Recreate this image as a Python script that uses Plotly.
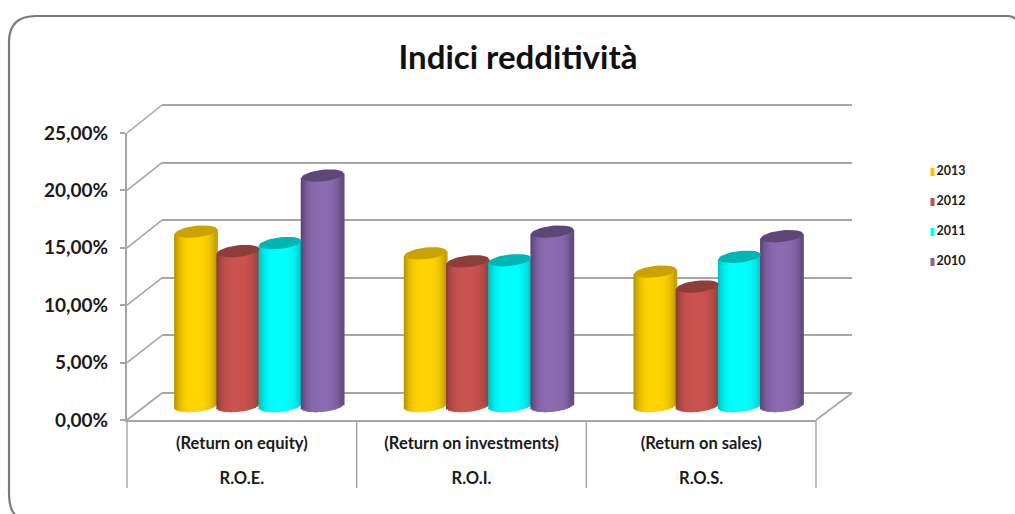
import math
import plotly.graph_objects as go

# ---- data ----
title = "Indici redditività"
row_labels_top = ["(Return on equity)", "(Return on investments)", "(Return on sales)"]
row_labels_bottom = ["R.O.E.", "R.O.I.", "R.O.S."]
years = ["2013", "2012", "2011", "2010"]
values_2013 = [15.2, 13.3, 11.7]
values_2012 = [13.5, 12.6, 10.4]
values_2011 = [14.2, 12.7, 13.0]
values_2010 = [20.1, 15.2, 14.8]

# ---- style ----
W, H = 1015, 514
FONT = "Lato"
TXT = "#1a1a1a"
GRID = "#a6a6a6"
series = [
    (years[0], values_2013, "#ffd400", "#b08f00", "#c9a400", "#ffc000"),
    (years[1], values_2012, "#c9534f", "#873a38", "#8e3d3a", "#c0504d"),
    (years[2], values_2011, "#00ffff", "#00bdbd", "#00b5b5", "#00ffff"),
    (years[3], values_2010, "#8a6bb0", "#54406f", "#5c4777", "#8064a2"),
]


def px(x):
    return x / W


def py(y):
    return 1 - y / H


def mix(a, b, t):
    ca = [int(a[i:i + 2], 16) for i in (1, 3, 5)]
    cb = [int(b[i:i + 2], 16) for i in (1, 3, 5)]
    return "rgb(%d,%d,%d)" % tuple(round(p + (q - p) * t) for p, q in zip(ca, cb))


GROUP = 0.735
SLOT = GROUP / 4
N = 21
UNIT = 286 / 25  # px per percentage point
E_BOT = 6.3 / UNIT
E_TOP = 5.8 / UNIT
TILT = 2.2 / UNIT

fig = go.Figure()

# keep the wall and front subplots alive
fig.add_trace(go.Scatter(x=[None], y=[None], xaxis="x", yaxis="y", showlegend=False, hoverinfo="skip"))
fig.add_trace(go.Scatter(x=[None], y=[None], xaxis="x2", yaxis="y2", showlegend=False, hoverinfo="skip"))
fig.add_trace(go.Scatter(x=[None], y=[None], xaxis="x3", yaxis="y2", showlegend=False, hoverinfo="skip"))

# cylinders: each value drawn as thin bars, shaded across the width
for s, (name, vals, centre, edge, cap, swatch) in enumerate(series):
    xs, hs, bs, cs = [], [], [], []
    cap_x, cap_y = [], []
    for g, v in enumerate(vals):
        cx = g + (s - 1.5) * SLOT
        for i in range(N):
            u = (i + 0.5) / N * 2 - 1
            curve = math.sqrt(1 - u * u)
            base = -E_BOT * curve + TILT * u
            top = v + TILT * u
            xs.append(cx + u * SLOT / 2)
            bs.append(base)
            hs.append(top - base)
            shade = abs(u) ** 3.2 * (1.0 if u < 0 else 0.85)
            cs.append(mix(centre, edge, shade))
        for k in range(41):
            th = 2 * math.pi * k / 40
            cap_x.append(cx + math.cos(th) * SLOT / 2)
            cap_y.append(v + E_TOP * math.sin(th) + TILT * math.cos(th))
        cap_x.append(None)
        cap_y.append(None)
    fig.add_trace(go.Bar(x=xs, y=hs, base=bs, width=SLOT / N * 1.8, name=name,
                         marker=dict(color=cs, line=dict(width=0)),
                         xaxis="x4", yaxis="y4", showlegend=False, hoverinfo="skip"))
    fig.add_trace(go.Scatter(x=cap_x, y=cap_y, mode="lines", fill="toself", fillcolor=cap,
                             line=dict(width=0, color=cap), xaxis="x4", yaxis="y4",
                             showlegend=False, hoverinfo="skip"))

# legend column
for i, (name, vals, centre, edge, cap, swatch) in enumerate(series):
    fig.add_trace(go.Scatter(x=[0], y=[i], text=[name], mode="markers+text", textposition="middle right",
                             marker=dict(symbol="square", size=8, color=swatch),
                             textfont=dict(family=FONT, size=12.5, color=TXT, weight=700),
                             xaxis="x5", yaxis="y5", showlegend=False, hoverinfo="skip"))

# frame and 3D box lines
shapes = []


def line(x0, y0, x1, y1, width=1.6):
    shapes.append(dict(type="line", xref="paper", yref="paper", x0=px(x0), y0=py(y0), x1=px(x1), y1=py(y1),
                       line=dict(color=GRID, width=width), layer="below"))


for k in range(6):
    line(127, 420 - k * 57.4, 162, 393 - k * 57.6)
line(816, 420, 852, 393)
for xd in (127, 356.7, 586.3, 816):
    line(xd, 420, xd, 488, 1.4)

pts = lambda x, y: f"{px(x):.5f},{py(y):.5f}"
frame = (f"M {pts(17, 516)} Q {pts(9, 512)} {pts(9, 492)} L {pts(9, 42)} "
         f"Q {pts(9, 16)} {pts(36, 16)} L {pts(1008, 16)} Q {pts(1013, 16)} {pts(1017, 20)}")
shapes.append(dict(type="path", xref="paper", yref="paper", path=frame, line=dict(color="#7a7a7a", width=2.2)))

tick_font = dict(family=FONT, size=19, color=TXT, weight=700)
cat_font = dict(family=FONT, size=16.5, color=TXT, weight=700)
hidden = dict(visible=False, showgrid=False, zeroline=False, fixedrange=True)
WALL_UNIT = (393 - 105) / 25

fig.update_layout(
    width=W, height=H, margin=dict(l=0, r=0, t=0, b=0, pad=0, autoexpand=False),
    paper_bgcolor="white", plot_bgcolor="rgba(0,0,0,0)",
    showlegend=False, barmode="overlay", separators=",.",
    title=dict(text=title, x=518 / W, xanchor="center", y=py(57), yanchor="middle",
               font=dict(family=FONT, size=33, color="#111111", weight=700)),
    shapes=shapes,
    # back wall
    xaxis=dict(domain=[px(162), px(852)], range=[-0.5, 2.5], anchor="y", **hidden),
    yaxis=dict(domain=[py(393 + WALL_UNIT), py(105 - WALL_UNIT)], range=[-1, 26], anchor="x", dtick=5, showgrid=True,
               gridcolor=GRID, gridwidth=1.8, showticklabels=False, ticks="", showline=False,
               zeroline=True, zerolinecolor=GRID, zerolinewidth=1.8, fixedrange=True),
    # front plane: value axis and first label row
    xaxis2=dict(domain=[px(127), px(816)], range=[-0.5, 2.5], anchor="y2",
                tickmode="array", tickvals=[0, 1, 2], ticktext=row_labels_top, tickfont=cat_font,
                ticks="", ticklabelstandoff=7, showline=True, linecolor=GRID, linewidth=2,
                showgrid=False, zeroline=False, fixedrange=True),
    yaxis2=dict(domain=[py(420), py(133)], range=[0, 25], anchor="x2",
                dtick=5, tickformat=".2f", ticksuffix="%", tickfont=tick_font, ticks="outside",
                ticklabelstandoff=8, ticklen=5, tickcolor=GRID, tickwidth=1.5, showline=True,
                linecolor=GRID, linewidth=2, showgrid=False, zeroline=False, fixedrange=True),
    # second label row
    xaxis3=dict(domain=[px(127), px(816)], range=[-0.5, 2.5], anchor="free", position=py(466),
                tickmode="array", tickvals=[0, 1, 2], ticktext=row_labels_bottom,
                tickfont=cat_font, ticks="", showline=False, showgrid=False, zeroline=False, fixedrange=True),
    # cylinders (range runs below zero so that the rounded foot is not clipped)
    xaxis4=dict(domain=[px(144.5), px(833.5)], range=[-0.5, 2.5], anchor="y4", **hidden),
    yaxis4=dict(domain=[py(405.5 + UNIT), py(119.5)], range=[-1, 25], anchor="x4", **hidden),
    # legend column
    xaxis5=dict(domain=[px(930.5), px(1010)], range=[0, 79.5], anchor="y5", **hidden),
    yaxis5=dict(domain=[py(277), py(157)], range=[3.5, -0.5], anchor="x5", **hidden),
)

fig.write_html("out.html", config=dict(displayModeBar=False),
               post_script="document.body.style.margin='0';document.documentElement.style.overflow='hidden';")
